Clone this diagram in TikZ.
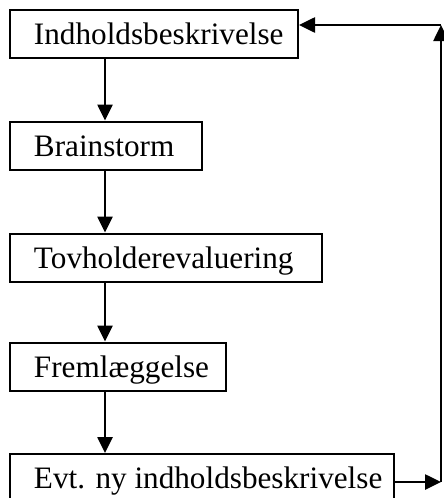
\documentclass[tikz,border=0pt]{standalone}
\usepackage{fontspec}
\setmainfont{Liberation Serif}
\usetikzlibrary{arrows.meta}
\begin{document}
\begin{tikzpicture}[x=1pt,y=-1pt,
  box/.style={draw, line width=2pt, anchor=west, inner xsep=24pt, inner ysep=0pt,
    minimum height=48pt, text height=27pt, text depth=6pt,
    font=\fontsize{31.2}{36}\selectfont},
  conn/.style={line width=2.6pt, -{Triangle[length=16pt,width=15pt]}}]
\useasboundingbox (0,0) rectangle (444,498);
\node[box] (b1) at (9,33.5) {\makebox[240pt][l]{Indholdsbeskrivelse}};
\node[box] (b2) at (9,145.5) {\makebox[144pt][l]{Brainstorm}};
\node[box] (b3) at (9,257.5) {\makebox[264pt][l]{Tovholderevaluering}};
\node[box] (b4) at (9,366.5) {\makebox[168pt][l]{Fremlæggelse}};
\node[box] (b5) at (9,478) {\makebox[336pt][l]{Evt. ny indholdsbeskrivelse}};
\coordinate (ax) at (105,0);
\coordinate (rb) at (441,482);
\coordinate (rt) at (441,25);
\draw[conn] (b1.south -| ax) -- (b2.north -| ax);
\draw[conn] (b2.south -| ax) -- (b3.north -| ax);
\draw[conn] (b3.south -| ax) -- (b4.north -| ax);
\draw[conn] (b4.south -| ax) -- (b5.north -| ax);
\draw[conn] (b5.east |- rb) -- (rb);
\draw[conn] (rb) -- (rt);
\draw[conn] (rt) -- (b1.east |- rt);
\end{tikzpicture}
\end{document}
